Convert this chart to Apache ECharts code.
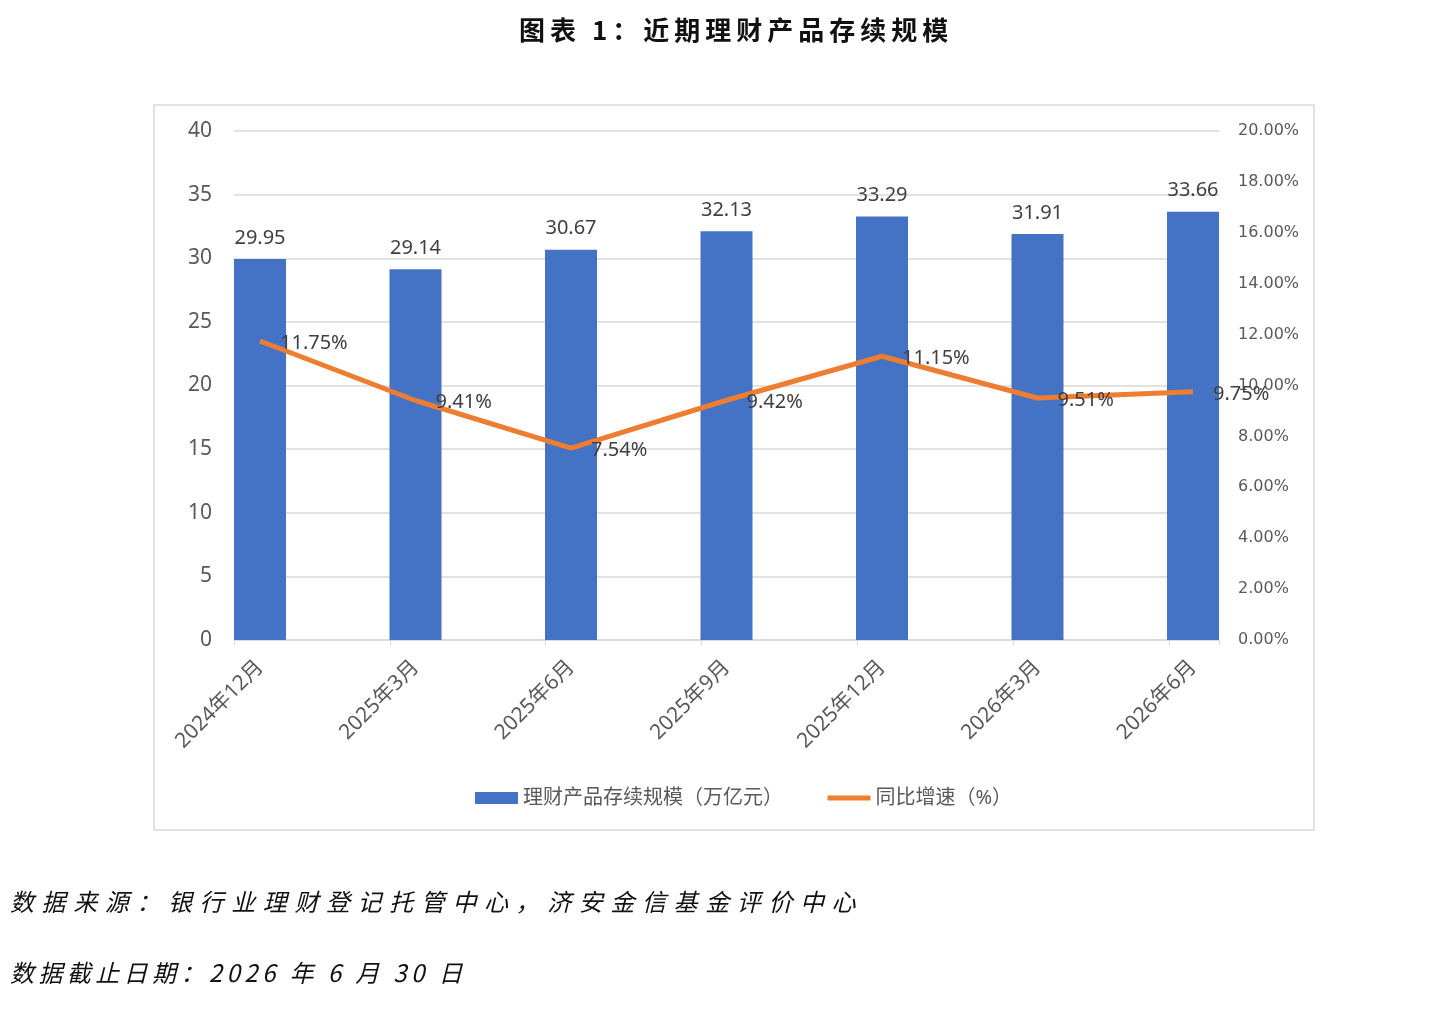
<!DOCTYPE html>
<html>
<head>
<meta charset="utf-8">
<script src="https://cdn.jsdelivr.net/npm/echarts@6/dist/echarts.min.js"></script>
<style>
  html, body { margin: 0; padding: 0; background: #fff; }
  #wrap { position: relative; width: 1439px; height: 1023px; }
  #chart { position: absolute; left: 0; top: 0; width: 1439px; height: 1023px; }
  .txt { position: absolute; white-space: nowrap; font-family: "Noto Sans CJK SC", sans-serif; color: #111; }
  #title { left: 519px; top: 11px; font-size: 26px; font-weight: bold; letter-spacing: 5px; line-height: 36px; }
  #src { left: 10px; top: 885px; font-size: 24px; font-style: italic; letter-spacing: 7.6px; line-height: 32px; }
  #date { left: 10px; top: 956px; font-size: 24px; font-style: italic; letter-spacing: 4.4px; line-height: 32px; }
</style>
</head>
<body>
<div id="wrap">
  <div id="chart"></div>
  <div class="txt" id="title">图表 1：近期理财产品存续规模</div>
  <div class="txt" id="src">数据来源：银行业理财登记托管中心，济安金信基金评价中心</div>
  <div class="txt" id="date">数据截止日期：2026 年 6 月 30 日</div>
</div>
<script>
// 数据
const categories = ['2024年12月', '2025年3月', '2025年6月', '2025年9月', '2025年12月', '2026年3月', '2026年6月'];
const scaleValues = [29.95, 29.14, 30.67, 32.13, 33.29, 31.91, 33.66];   // 万亿元
const growthValues = [11.75, 9.41, 7.54, 9.42, 11.15, 9.51, 9.75];     // %
const barName = '理财产品存续规模（万亿元）';
const lineName = '同比增速（%）';

const font = '"Noto Sans", "Noto Sans CJK SC", sans-serif';
const gray = '#595959';

const chart = echarts.init(document.getElementById('chart'));

const option = {
  textStyle: { fontFamily: font },
  animation: false,
  graphic: [{
    type: 'rect',
    shape: { x: 154, y: 105, width: 1160, height: 725 },
    style: { fill: 'none', stroke: '#d9d9d9', lineWidth: 1.5 },
    silent: true
  }],
  legend: {
    left: 470,
    top: 783,
    itemWidth: 43,
    itemHeight: 12,
    itemGap: 42,
    textStyle: { fontSize: 20, color: gray, fontFamily: font },
    data: [
      { name: barName, icon: 'rect' },
      { name: lineName, itemStyle: { opacity: 0 }, lineStyle: { width: 5, color: '#ED7D31' } }
    ]
  },
  grid: [
    // 网格线所在区域
    { left: 234, right: 220, top: 131, bottom: 383 },
    // 柱子和折线所在区域
    { left: 260, right: 246, top: 131, bottom: 383 }
  ],
  xAxis: [
    {
      gridIndex: 0, type: 'value', min: 0, max: 6.32, interval: 1,
      axisLine: { show: true, lineStyle: { color: '#d9d9d9', width: 1.5 } },
      axisTick: { show: true, length: 5, lineStyle: { color: '#d9d9d9' } },
      axisLabel: { show: false },
      splitLine: { show: false }
    },
    {
      gridIndex: 1, type: 'category', data: categories, boundaryGap: false,
      axisLine: { show: false },
      axisTick: { show: false },
      axisLabel: { rotate: 45, fontSize: 21, color: gray, margin: 24, interval: 0 }
    }
  ],
  yAxis: [
    {
      gridIndex: 0, type: 'value', min: 0, max: 40, interval: 5,
      axisLine: { show: false }, axisTick: { show: false },
      axisLabel: { fontSize: 21, color: gray, margin: 22 },
      splitLine: { lineStyle: { color: '#d9d9d9', width: 1.5 } }
    },
    {
      gridIndex: 0, type: 'value', min: 0, max: 20, interval: 2, position: 'right',
      axisLine: { show: false }, axisTick: { show: false },
      axisLabel: { fontSize: 16, color: gray, margin: 19, fontFamily: '"DejaVu Sans", sans-serif', formatter: v => v.toFixed(2) + '%' },
      splitLine: { show: false }
    },
    { gridIndex: 1, type: 'value', min: 0, max: 40, show: false },
    { gridIndex: 1, type: 'value', min: 0, max: 20, position: 'right', show: false }
  ],
  series: [
    {
      name: barName,
      type: 'bar',
      xAxisIndex: 1, yAxisIndex: 2,
      data: scaleValues,
      barWidth: 52,
      clip: false,
      itemStyle: { color: '#4472C4' },
      label: { show: true, position: 'top', distance: 11, fontSize: 20, color: '#404040', formatter: p => p.value.toFixed(2) }
    },
    {
      name: lineName,
      type: 'line',
      xAxisIndex: 1, yAxisIndex: 3,
      data: growthValues,
      symbol: 'circle', symbolSize: 0, showSymbol: true,
      clip: false,
      lineStyle: { color: '#ED7D31', width: 5 },
      itemStyle: { color: '#ED7D31' },
      label: { show: true, position: 'right', distance: 20, fontSize: 20, color: '#404040', offset: [0, 2], formatter: p => p.value.toFixed(2) + '%' },
      z: 5
    }
  ]
};

chart.setOption(option);
</script>
</body>
</html>
